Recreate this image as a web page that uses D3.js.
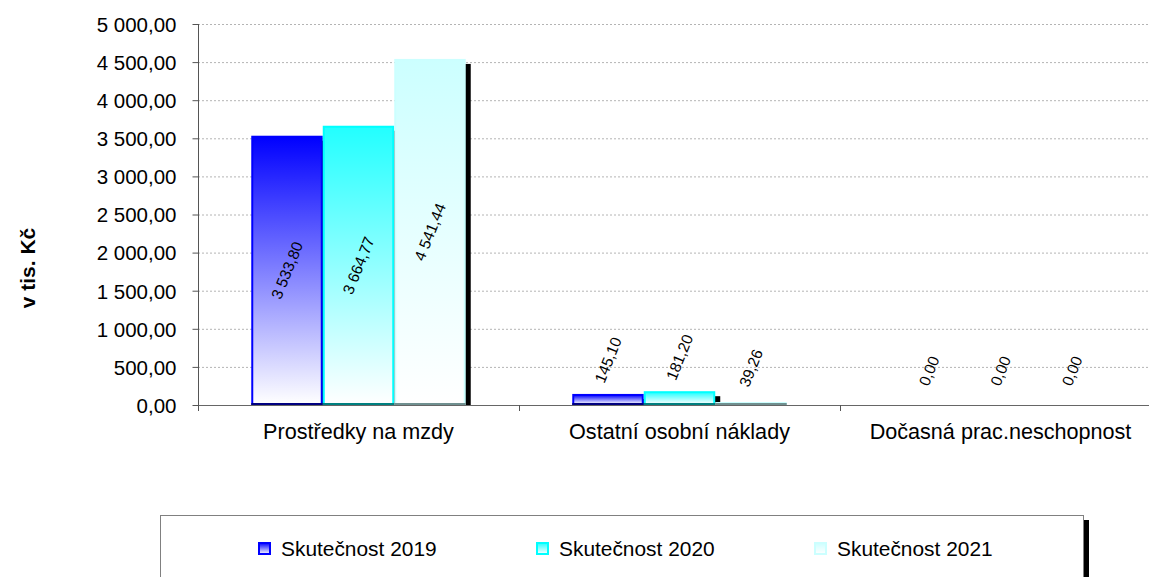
<!DOCTYPE html>
<html>
<head>
<meta charset="utf-8">
<script src="https://cdn.jsdelivr.net/npm/d3@7"></script>
<style>
  body { margin: 0; background: #fff; }
  text { font-family: Arial, "Liberation Sans", sans-serif; fill: #000; }
</style>
</head>
<body>
<svg id="chart" width="1149" height="577"></svg>
<script>
// data
const categories = ["Prostředky na mzdy", "Ostatní osobní náklady", "Dočasná prac.neschopnost"];
const seriesNames = ["Skutečnost 2019", "Skutečnost 2020", "Skutečnost 2021"];
const values2019 = [3533.80, 145.10, 0.00];
const values2020 = [3664.77, 181.20, 0.00];
const values2021 = [4541.44, 39.26, 0.00];
const yTicks = [0, 500, 1000, 1500, 2000, 2500, 3000, 3500, 4000, 4500, 5000];

const seriesValues = [values2019, values2020, values2021];

// looks
const topColors = ["#0000ff", "#22ffff", "#ccffff"];
const edgeColors = ["#0000ff", "#00ffff", "#ccffff"];
const baseColors = ["#000080", "#008080", "#709090"];

const svg = d3.select("#chart");
const plotLeft = 198, plotTop = 24, plotBottom = 405;
const catW = 321;

const x = d3.scaleBand()
  .domain(categories)
  .range([plotLeft, plotLeft + catW * categories.length]);

const xs = d3.scaleBand()
  .domain(seriesNames)
  .range([0, catW])
  .paddingInner(0)
  .paddingOuter(0.745);

const y = d3.scaleLinear()
  .domain([0, 5000])
  .range([plotBottom, plotTop]);

const fmt = v => {
  const s = v.toFixed(2).split(".");
  const intPart = s[0].replace(/\B(?=(\d{3})+(?!\d))/g, " ");
  return intPart + "," + s[1];
};

// gradients
const defs = svg.append("defs");
seriesNames.forEach((s, i) => {
  const g = defs.append("linearGradient")
    .attr("id", "grad" + i)
    .attr("x1", 0).attr("y1", 0).attr("x2", 0).attr("y2", 1);
  g.append("stop").attr("offset", "0%").attr("stop-color", topColors[i]);
  g.append("stop").attr("offset", "100%").attr("stop-color", "#ffffff");
});
defs.append("clipPath").attr("id", "plotclip")
  .append("rect").attr("x", plotLeft).attr("y", 0)
  .attr("width", 1149 - plotLeft).attr("height", plotBottom);

// gridlines
svg.append("g")
  .selectAll("line")
  .data(yTicks.filter(t => t > 0))
  .enter().append("line")
  .attr("x1", plotLeft).attr("x2", 1149)
  .attr("y1", d => y(d) + 0.5).attr("y2", d => y(d) + 0.5)
  .attr("stroke", "#b4b4b4")
  .attr("stroke-dasharray", "2,2");

// flat bar table
const bars = [];
categories.forEach((c, ci) => {
  seriesNames.forEach((s, si) => {
    bars.push({ cat: c, series: s, si: si, value: seriesValues[si][ci] });
  });
});

// shadows
svg.append("g")
  .attr("clip-path", "url(#plotclip)")
  .selectAll("rect")
  .data(bars.filter(d => d.value > 0))
  .enter().append("rect")
  .attr("x", d => x(d.cat) + xs(d.series) + 5)
  .attr("y", d => y(d.value) + 5)
  .attr("width", xs.bandwidth())
  .attr("height", d => plotBottom - y(d.value))
  .attr("fill", "#000");

// bars
const barG = svg.append("g");
barG.selectAll("rect")
  .data(bars.filter(d => d.value > 0))
  .enter().append("rect")
  .attr("x", d => x(d.cat) + xs(d.series) + 1)
  .attr("y", d => y(d.value) + 1)
  .attr("width", xs.bandwidth() - 2)
  .attr("height", d => Math.max(0, plotBottom - y(d.value) - 2))
  .attr("fill", d => "url(#grad" + d.si + ")")
  .attr("stroke", d => edgeColors[d.si])
  .attr("stroke-width", 2);

barG.selectAll("line")
  .data(bars.filter(d => d.value > 0))
  .enter().append("line")
  .attr("x1", d => x(d.cat) + xs(d.series))
  .attr("x2", d => x(d.cat) + xs(d.series) + xs.bandwidth())
  .attr("y1", plotBottom - 1).attr("y2", plotBottom - 1)
  .attr("stroke", d => baseColors[d.si])
  .attr("stroke-width", 2);

// axes
const yAxis = d3.axisLeft(y).tickValues(yTicks).tickFormat(fmt).tickSize(6).tickPadding(16);
const gy = svg.append("g")
  .attr("transform", "translate(" + (plotLeft + 0.5) + ",0)")
  .call(yAxis);
gy.select(".domain").attr("stroke", "#555").attr("d", "M0," + plotTop + "V" + plotBottom);
gy.selectAll(".tick line").attr("stroke", "#555");
gy.selectAll(".tick text")
  .style("font-size", "20.5px")
  .attr("dy", "0.36em")
  .attr("fill", "#000");

const xAxis = d3.axisBottom(x).tickSize(0).tickPadding(18);
const gx = svg.append("g")
  .attr("transform", "translate(0," + (plotBottom + 0.5) + ")")
  .call(xAxis);
gx.select(".domain").attr("stroke", "#666").attr("d", "M" + plotLeft + ",0H1149");
gx.selectAll(".tick text")
  .style("font-size", "21.6px")
  .attr("dy", "0.71em")
  .attr("fill", "#000");

// category separators
svg.append("g")
  .selectAll("line")
  .data(categories)
  .enter().append("line")
  .attr("x1", d => x(d) + 0.5).attr("x2", d => x(d) + 0.5)
  .attr("y1", plotBottom).attr("y2", plotBottom + 6)
  .attr("stroke", "#555");

// value labels
svg.append("g")
  .selectAll("text")
  .data(bars)
  .enter().append("text")
  .attr("transform", d => {
    const cx = x(d.cat) + xs(d.series) + xs.bandwidth() / 2;
    const h = plotBottom - y(d.value);
    const cy = h > 80 ? (y(d.value) + plotBottom) / 2 : y(d.value) - 34;
    return "translate(" + cx + "," + cy + ") rotate(-68)";
  })
  .attr("text-anchor", "middle")
  .attr("dy", "0.35em")
  .style("font-size", "15.5px")
  .text(d => fmt(d.value));

// y title
svg.append("text")
  .attr("transform", "translate(35,268) rotate(-90)")
  .attr("text-anchor", "middle")
  .style("font-size", "21px")
  .style("font-weight", "bold")
  .text("v tis. Kč");

// legend
const lg = svg.append("g");
lg.append("rect")
  .attr("x", 1083).attr("y", 520).attr("width", 6).attr("height", 70)
  .attr("fill", "#000");
lg.append("rect")
  .attr("x", 160.5).attr("y", 515.5).attr("width", 923).attr("height", 80)
  .attr("fill", "#fff").attr("stroke", "#808080").attr("stroke-width", 1);

const legX = d3.scaleOrdinal().domain(seriesNames).range([258, 536, 814]);
const item = lg.selectAll("g.item")
  .data(seriesNames)
  .enter().append("g")
  .attr("class", "item")
  .attr("transform", d => "translate(" + legX(d) + ",542)");
item.append("rect")
  .attr("x", 1).attr("y", 1).attr("width", 11).attr("height", 11)
  .attr("fill", (d, i) => "url(#grad" + i + ")")
  .attr("stroke", (d, i) => edgeColors[i])
  .attr("stroke-width", 2);
item.append("text")
  .attr("x", 23).attr("y", 6.5)
  .attr("dy", "0.36em")
  .style("font-size", "20.9px")
  .text(d => d);
</script>
</body>
</html>
